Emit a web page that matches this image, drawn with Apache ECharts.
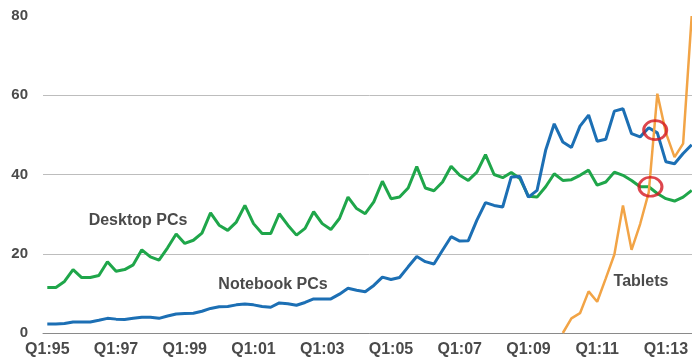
<!DOCTYPE html>
<html>
<head>
<meta charset="utf-8">
<script src="https://cdn.jsdelivr.net/npm/echarts@6/dist/echarts.min.js"></script>
<style>
    html, body {
        margin: 0;
        padding: 0;
        background: #fff;
        overflow: hidden;
    }
    /* plot runs slightly past the right edge of the window, as in the source */
    #chart {
        width: 696px;
        height: 362px;
        overflow: hidden;
    }
</style>
</head>
<body>
<div id="chart"></div>
<script>
// quarterly categories Q1:95 .. Q4:13
var years = ['95', '96', '97', '98', '99', '00', '01', '02', '03', '04',
    '05', '06', '07', '08', '09', '10', '11', '12', '13']
var categories = []
years.forEach(function (y) {
    for (var q = 1; q <= 4; q++) {
        categories.push('Q' + q + ':' + y)
    }
})

var yTicks = [0, 20, 40, 60, 80]

var desktop = [
    11.5, 11.5, 13, 16, 14, 14, 14.5, 18, 15.6, 16, 17.2, 21,
    19.2, 18.4, 21.5, 25, 22.6, 23.4, 25.2, 30.3, 27.2, 25.9, 28, 32.2,
    27.6, 25.1, 25.1, 30.1, 27.2, 24.7, 26.4, 30.6, 27.6, 26.1, 28.9, 34.3,
    31.4, 30.1, 33.1, 38.3, 33.9, 34.3, 36.6, 42, 36.6, 35.9, 38.1, 42.1,
    39.8, 38.5, 40.6, 45, 40, 39.2, 40.5, 39, 34.5, 34.3, 36.9, 40.2,
    38.5, 38.7, 39.8, 41.1, 37.3, 38.1, 40.6, 39.8, 38.5, 36.9, 36.9, 35.2,
    33.9, 33.3, 34.3, 36
]

var notebook = [
    2.3, 2.3, 2.4, 2.8, 2.8, 2.8, 3.2, 3.7, 3.5, 3.4, 3.7, 4,
    4, 3.7, 4.3, 4.8, 4.9, 5, 5.5, 6.2, 6.6, 6.7, 7.1, 7.3,
    7.1, 6.7, 6.5, 7.6, 7.4, 7, 7.7, 8.6, 8.6, 8.6, 9.8, 11.3,
    10.8, 10.4, 12, 14.1, 13.5, 14, 16.7, 19.3, 18, 17.4, 20.9, 24.3,
    23.2, 23.3, 28.5, 32.9, 32.2, 31.8, 39.4, 39.5, 34.3, 36, 46.1, 52.8,
    48.2, 46.8, 52.2, 55, 48.4, 48.9, 56, 56.6, 50.3, 49.5, 51.8, 50.5,
    43.2, 42.7, 45.3, 47.5
]

var tabletsStart = 60
var tabletsValues = [0, 3.7, 5, 10.5, 7.9, 13.8, 19.8, 32.2, 21, 27.5, 35.5, 60.4,
    50.5, 44.4, 47.8, 80]
var tablets = categories.map(function (c, i) {
    return i < tabletsStart ? null : tabletsValues[i - tabletsStart]
})

// crossing points circled in red: [quarter index, value]
var highlights = [[70.75, 51.2], [70.2, 36.9]]

var font = '"Liberation Sans", Arial, sans-serif'
var chart = echarts.init(document.getElementById('chart'))
chart.setOption({
    animation: false,
    backgroundColor: '#fff',
    grid: {
        left: 43,
        right: 0,
        top: 16,
        bottom: 29
    },
    xAxis: [{
        type: 'category',
        data: categories,
        boundaryGap: true,
        axisLine: { lineStyle: { color: '#8a8a8a', width: 1 } },
        axisTick: {
            interval: 0,
            length: 5,
            lineStyle: { color: '#8a8a8a' }
        },
        axisLabel: {
            interval: 7,
            margin: 9,
            color: '#4a4a4a',
            fontWeight: 'bold',
            fontSize: 16,
            fontFamily: font,
            hideOverlap: false
        },
        splitLine: { show: false }
    }, {
        type: 'value',
        min: -0.5,
        max: 75.5,
        show: false
    }],
    yAxis: {
        type: 'value',
        min: yTicks[0],
        max: yTicks[yTicks.length - 1],
        interval: 20,
        axisLine: { show: false },
        axisTick: { show: false },
        axisLabel: {
            margin: 15,
            color: '#4a4a4a',
            fontWeight: 'bold',
            fontSize: 15,
            fontFamily: font
        },
        splitLine: {
            show: true,
            lineStyle: {
                color: ['#bdbdbd', '#bdbdbd', '#bdbdbd', '#bdbdbd', 'rgba(0,0,0,0)'],
                width: 1
            }
        }
    },
    series: [{
        name: 'Desktop PCs',
        type: 'line',
        data: desktop,
        symbol: 'none',
        lineStyle: { color: '#1fa64a', width: 3 },
        itemStyle: { color: '#1fa64a' }
    }, {
        name: 'Notebook PCs',
        type: 'line',
        data: notebook,
        symbol: 'none',
        lineStyle: { color: '#1c6fb4', width: 3 },
        itemStyle: { color: '#1c6fb4' }
    }, {
        name: 'Tablets',
        type: 'line',
        data: tablets,
        symbol: 'none',
        connectNulls: false,
        lineStyle: { color: '#f2a446', width: 2.5 },
        itemStyle: { color: '#f2a446' }
    }, {
        type: 'scatter',
        xAxisIndex: 1,
        data: highlights,
        symbol: 'circle',
        symbolSize: [23, 19],
        z: 10,
        itemStyle: {
            color: 'rgba(0,0,0,0)',
            borderColor: '#d41820',
            borderWidth: 2.8
        }
    }],
    graphic: [{
        type: 'text',
        x: 138,
        y: 221,
        style: {
            text: 'Desktop PCs',
            font: 'bold 16px ' + font,
            fill: '#4a4a4a',
            align: 'center',
            verticalAlign: 'middle'
        }
    }, {
        type: 'text',
        x: 273,
        y: 285,
        style: {
            text: 'Notebook PCs',
            font: 'bold 16px ' + font,
            fill: '#4a4a4a',
            align: 'center',
            verticalAlign: 'middle'
        }
    }, {
        type: 'text',
        x: 641,
        y: 282,
        style: {
            text: 'Tablets',
            font: 'bold 16px ' + font,
            fill: '#4a4a4a',
            align: 'center',
            verticalAlign: 'middle'
        }
    }]
})
</script>
</body>
</html>
